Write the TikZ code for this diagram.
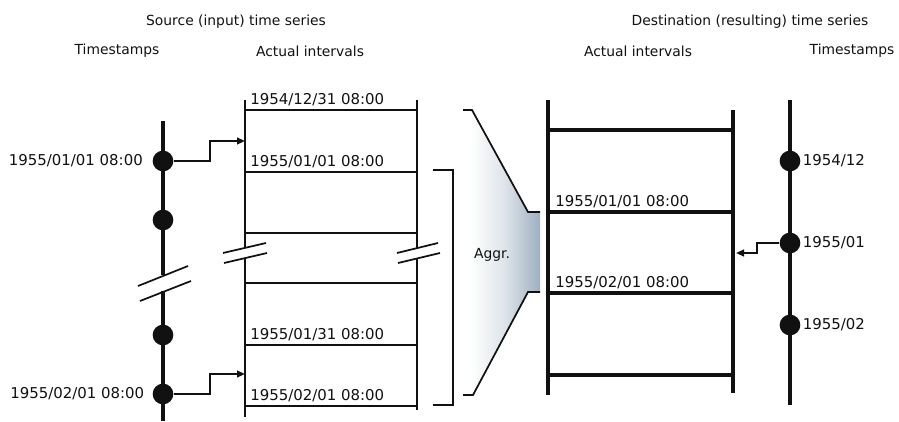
\documentclass[tikz,border=0pt]{standalone}
\usepackage{fontspec}
\setmainfont{DejaVu Sans}
\usepackage{tikz}
\usetikzlibrary{positioning,arrows.meta}
\definecolor{ink}{HTML}{111111}
\definecolor{aggr}{HTML}{9FB0C1}
\tikzset{
  >={Triangle[length=6pt,width=5pt]},
  hd/.style={font=\fontsize{10.4}{12}\selectfont, inner sep=0pt, text=ink},
  stamp/.style={font=\fontsize{11.2}{13}\selectfont, inner sep=0pt, text=ink},
  tsdot/.style={circle, fill=ink, inner sep=0pt, minimum size=15.5pt},
  tsaxis/.style={draw=ink, line width=3.6pt},
  ivl/.style={draw=ink, line width=1.4pt},
  ivlbold/.style={draw=ink, line width=2.6pt},
  brk/.style={draw=ink, line width=1.3pt},
  link/.style={->, draw=ink, line width=1.4pt},
}
\begin{document}
\begin{tikzpicture}[x=0.75pt,y=-0.75pt]
  \useasboundingbox (0,0) rectangle (899,421);
  \node[hd] (srctitle) at (236,22) {Source (input) time series};
  \node[hd] (srcts) at (117,51) {Timestamps};
  \node[hd] (srciv) at (310,51) {Actual intervals};
  \node[hd] (dsttitle) at (750,22) {Destination (resulting) time series};
  \node[hd] (dstiv) at (638,51) {Actual intervals};
  \node[hd] (dstts) at (852,51) {Timestamps};

  % source timestamps
  \draw[tsaxis] (163,121) -- (163,275);
  \draw[tsaxis] (163,291) -- (163,421);
  \draw[brk] (138,286) -- (188,266);
  \draw[brk] (140,301) -- (191,281);
  \node[tsdot] (s1) at (163,161) {};
  \node[tsdot] (s2) at (163,220) {};
  \node[tsdot] (s3) at (163,335) {};
  \node[tsdot] (s4) at (163,394) {};
  \node[stamp, left=7pt of s1] {1955/01/01 08:00};
  \node[stamp, left=6pt of s4] {1955/02/01 08:00};

  % source intervals
  \draw[ivl] (245,100) -- (245,248) (245,258) -- (245,417);
  \draw[ivl] (417,100) -- (417,248) (417,258) -- (417,410);
  \foreach \y in {110,172,233,283,345,406}
    \draw[ivl] (245,\y) -- (417,\y);
  \draw[brk] (223,253) -- (266,243) (224,263) -- (267,253);
  \draw[brk] (397,253) -- (438,243) (398,263) -- (440,253);
  \node[stamp, anchor=base west] at (250,104) {1954/12/31 08:00};
  \node[stamp, anchor=base west] at (250,166) {1955/01/01 08:00};
  \node[stamp, anchor=base west] at (250,339) {1955/01/31 08:00};
  \node[stamp, anchor=base west] at (250,400) {1955/02/01 08:00};

  \coordinate (k1) at (210,141);
  \coordinate (a1) at (245,141);
  \coordinate (k2) at (210,374);
  \coordinate (a2) at (245,374);
  \draw[link] (s1) -| (k1) -- (a1);
  \draw[link] (s4) -| (k2) -- (a2);

  % aggregation
  \draw[draw=ink, line width=2pt] (433,170) -- (453,170) -- (453,405) -- (433,405);
  \shade[left color=white, right color=aggr, middle color=aggr!35]
    (470,110) -- (528,212) -- (540,212) -- (540,292) -- (528,292) -- (471,395) -- cycle;
  \draw[brk] (463,110) -- (472,110) -- (528,212) -- (540,212);
  \draw[brk] (463,395) -- (473,395) -- (528,292) -- (540,292);
  \node[hd] (agg) at (492,255) {Aggr.};

  % destination intervals
  \draw[draw=ink, line width=3pt] (548,100) -- (548,395);
  \draw[draw=ink, line width=3pt] (733,110) -- (733,393);
  \foreach \y in {130,212,293,375}
    \draw[ivlbold] (548,\y) -- (733,\y);
  \node[stamp, anchor=base west] at (555,206) {1955/01/01 08:00};
  \node[stamp, anchor=base west] at (555,287) {1955/02/01 08:00};

  % destination timestamps
  \draw[tsaxis] (790,100) -- (790,405);
  \node[tsdot] (d1) at (790,161) {};
  \node[tsdot] (d2) at (790,243) {};
  \node[tsdot] (d3) at (790,325) {};
  \node[stamp, right=1.5pt of d1] {1954/12};
  \node[stamp, right=1.5pt of d2] {1955/01};
  \node[stamp, right=1.5pt of d3] {1955/02};

  \coordinate (k3) at (757,253);
  \coordinate (b3) at (736,253);
  \draw[link] (d2) -| (k3) -- (b3);
\end{tikzpicture}
\end{document}
